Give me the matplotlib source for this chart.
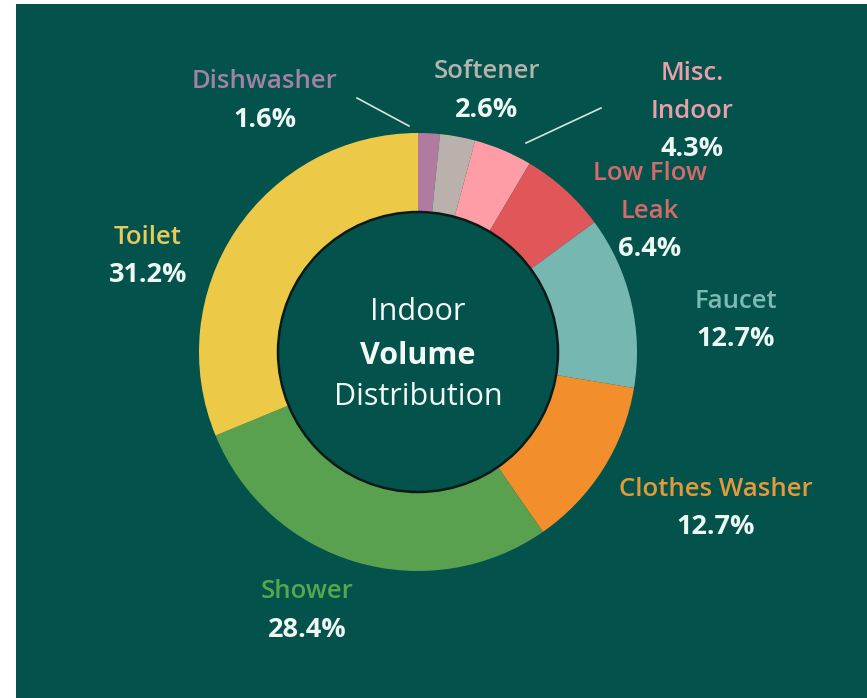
import matplotlib.pyplot as plt
from matplotlib.patches import Circle, Rectangle

# indoor water use, clockwise from 12 o'clock
names = ['Dishwasher', 'Softener', 'Misc.\nIndoor', 'Low Flow\nLeak', 'Faucet',
         'Clothes Washer', 'Shower', 'Toilet']
shares = [1.6, 2.6, 4.3, 6.4, 12.7, 12.7, 28.4, 31.2]
colors = ['#b07aa1', '#bab0ac', '#ff9da7', '#e15759', '#76b7b2',
          '#f28e2b', '#59a14f', '#edc948']
label_colors = ['#a283a6', '#b4b4ae', '#eaa0aa', '#d46a6c', '#7cbab4',
                '#e39a3a', '#55a84c', '#e6cc5c']

# label anchor (top line centre), in pixels from top-left
label_pos = [(265, 82), (487, 72), (692, 73), (650, 173), (736, 301),
             (716, 489), (307, 592), (148, 237)]

W, H = 867, 698
bg = '#03524c'
cx, cy = 418, 352
r_out, r_in = 219, 140

plt.rcParams['font.family'] = ['Open Sans', 'DejaVu Sans']

fig = plt.figure(figsize=(W / 100, H / 100), dpi=100)
fig.patch.set_facecolor('white')
ax = fig.add_axes([0, 0, 1, 1])


def py(y):
    return H - y


ax.add_patch(Rectangle((16, 0), W - 16, H - 4, facecolor=bg, edgecolor='none', zorder=0))

ax.pie(shares, colors=colors, startangle=90, counterclock=False,
       radius=r_out, center=(cx, py(cy)),
       wedgeprops=dict(width=r_out - r_in, edgecolor='none'))
ax.add_patch(Circle((cx, py(cy)), r_in, facecolor=bg, edgecolor='#0b1a17',
                    linewidth=1.8, zorder=5))

ax.set_xlim(0, W)
ax.set_ylim(0, H)
ax.set_aspect('auto')
ax.axis('off')

fs = 18.5
pitch = 38
for name, share, (x, y), c in zip(names, shares, label_pos, label_colors):
    lines = name.split('\n')
    for k, ln in enumerate(lines):
        ax.text(x, py(y + k * pitch), ln, ha='center', va='center',
                fontsize=fs, color=c, fontweight='semibold', zorder=6)
    ax.text(x, py(y + len(lines) * pitch), f'{share}%', ha='center', va='center',
            fontsize=19.5, color='#eef8f4', fontweight='bold', zorder=6)

# leader lines for the two thin slices
ax.plot([357, 409], [py(98), py(126)], color='#d8e4e0', lw=1.2)
ax.plot([601, 526], [py(108), py(143)], color='#d8e4e0', lw=1.2)

ax.text(cx, py(312), 'Indoor', ha='center', va='center', fontsize=22,
        color='#f4faf8', fontweight='medium', zorder=6)
ax.text(cx, py(356), 'Volume', ha='center', va='center', fontsize=22,
        color='#f4faf8', fontweight='bold', zorder=6)
ax.text(cx, py(397), 'Distribution', ha='center', va='center', fontsize=22,
        color='#f4faf8', fontweight='medium', zorder=6)

fig.savefig('out.png', dpi=100, facecolor=fig.get_facecolor())
